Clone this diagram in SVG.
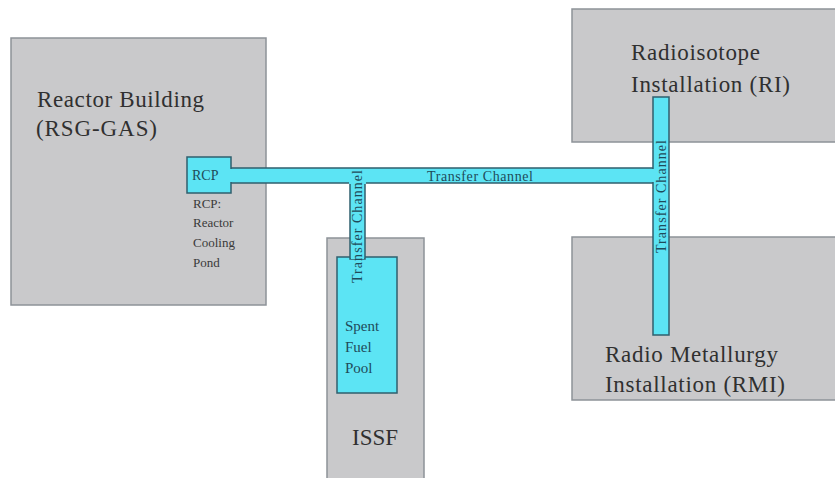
<svg xmlns="http://www.w3.org/2000/svg" width="835" height="478" viewBox="0 0 835 478">
<style>
.bld{fill:#c9c9cb;stroke:#8d9298;stroke-width:1.5}
.ch{fill:#5ce4f4;stroke:#2f5f6e;stroke-width:1.5}
.chf{fill:#5ce4f4;stroke:none}
text{font-family:"Liberation Serif","Times New Roman",serif}
.big{font-size:23px;fill:#303030}
.sm{font-size:13px;fill:#3a3a3a}
.cht{font-size:14px;fill:#1f4b5a}
.pt{font-size:15px;fill:#1f4b5a}
</style>
<rect width="835" height="478" fill="#ffffff"/>
<g id="reactor-building">
<rect class="bld" x="11" y="38" width="255" height="267"/>
<text class="big" x="37" y="107" textLength="167">Reactor Building</text>
<text class="big" x="36" y="136" textLength="121">(RSG-GAS)</text>
</g>
<g id="ri">
<rect class="bld" x="572" y="9" width="266" height="133"/>
<text class="big" x="631" y="60" textLength="129">Radioisotope</text>
<text class="big" x="631" y="92" textLength="159">Installation (RI)</text>
</g>
<g id="rmi">
<rect class="bld" x="572" y="237" width="266" height="163"/>
<text class="big" x="605" y="362" textLength="173">Radio Metallurgy</text>
<text class="big" x="605" y="392" textLength="180">Installation (RMI)</text>
</g>
<g id="issf">
<rect class="bld" x="327" y="238" width="97" height="245"/>
<text class="big" x="375" y="445" text-anchor="middle">ISSF</text>
</g>
<g id="spent-fuel-pool">
<rect class="ch" x="337" y="257" width="60" height="136"/>
<text class="pt" x="345" y="331">Spent</text>
<text class="pt" x="345" y="352">Fuel</text>
<text class="pt" x="345" y="373">Pool</text>
</g>
<g id="connectors">
<rect class="ch" x="229" y="168" width="426" height="15"/>
<rect class="ch" x="350" y="181" width="15" height="78"/>
<rect class="ch" x="653" y="97" width="16" height="238"/>
<rect class="chf" x="349" y="169" width="17" height="15"/>
<rect class="chf" x="652" y="169" width="4" height="13"/>
<rect class="chf" x="351" y="255" width="13" height="4"/>
<text class="cht" x="427" y="181" textLength="106">Transfer Channel</text>
<text class="cht" transform="translate(362,283) rotate(-90)" textLength="113">Transfer Channel</text>
<text class="cht" transform="translate(666,253) rotate(-90)" textLength="113">Transfer Channel</text>
</g>
<g id="rcp">
<rect class="ch" x="187" y="157" width="44" height="36"/>
<rect class="chf" x="229" y="169" width="4" height="13"/>
<text class="pt" x="192" y="180" style="font-size:14px">RCP</text>
<text class="sm" x="193" y="208">RCP:</text>
<text class="sm" x="193" y="227">Reactor</text>
<text class="sm" x="193" y="247">Cooling</text>
<text class="sm" x="193" y="267">Pond</text>
</g>
</svg>
